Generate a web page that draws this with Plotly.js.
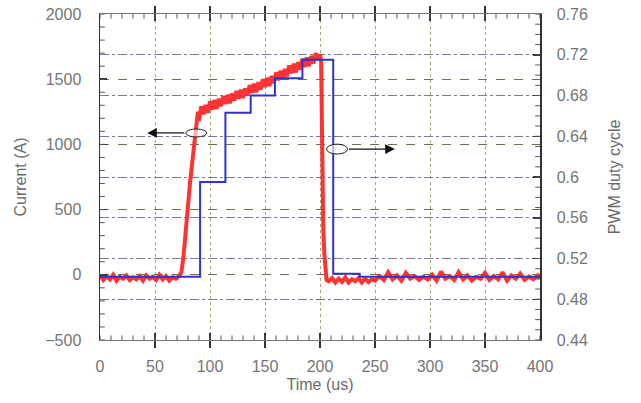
<!DOCTYPE html>
<html><head><meta charset="utf-8">
<script src="https://cdn.plot.ly/plotly-3.0.1.min.js"></script>
<style>html,body{margin:0;padding:0;background:#fff}#c{width:641px;height:403px}</style>
</head><body><div id="c"></div>
<script>
// Current (A) trace, time in us
const currentTime = [0,3,6,9,12,15,18,21,24,27,30,33,36,39,42,45,48,51,54,57,60,63,66,69,72,
  74,76,79,82,85,88,89,90,91,
  92,94,96,98,100,102,104,106,108,110,112,114,116,118,120,122,124,126,128,130,132,134,136,138,140,142,144,146,148,150,152,154,156,158,160,162,164,166,168,170,172,174,176,178,180,182,184,186,188,190,192,194,196,198,200,
  201,202,203,204,205,206,
  208,211,214,217,220,223,226,229,232,235,238,241,244,247,250,
  254,258,262,266,270,274,278,282,286,290,294,298,302,306,310,314,318,322,326,330,334,338,342,346,350,354,358,362,366,370,374,378,382,386,390,394,398,400];
const currentA = [-5,-40,-10,-35,0,-45,-15,-30,-5,-40,-20,-35,-10,-45,-5,-30,-15,-40,0,-35,-10,-45,-20,-30,-10,
  20,150,450,720,950,1180,1250,1180,1260,
  1293,1231,1303,1241,1329,1267,1340,1272,1350,1293,1370,1310,1380,1315,1390,1335,1410,1350,1420,1355,1430,1375,1455,1395,1465,1400,1478,1420,1500,1440,1512,1448,1525,1470,1550,1492,1565,1500,1578,1522,1605,1545,1618,1552,1630,1574,1657,1594,1667,1600,1678,1621,1700,1651,1690,
  1640,900,350,150,40,-40,
  -50,-25,-60,-30,-55,-20,-60,-35,-50,-25,-60,-30,-55,-35,-45,
  -10,-40,20,-35,-5,-45,15,-30,-10,-40,-15,-35,0,-45,25,-30,-10,-40,20,-35,-5,-45,-15,-30,15,-40,-10,-35,20,-45,-5,-30,10,-40,-15,-35,-5,-30];

// PWM duty cycle (step)
const dutyTime = [0,91,114,137,159,184,212,236,400];
const dutyCycle = [0.502,0.595,0.663,0.680,0.697,0.715,0.505,0.502,0.502];

// axis ranges / tick steps
const xRange = [0,400], xMinorStep = 10;
const yRange = [-500,2000], yMinorStep = 100;
const y2Range = [0.44,0.76], y2MinorStep = 0.01;

const tickFont = {family:'Liberation Sans, Arial, sans-serif', size:16, color:'#757575'};
const titleFont = {family:'Liberation Sans, Arial, sans-serif', size:16, color:'#6a6a6a'};

const traces = [
  {x: currentTime, y: currentA, type:'scatter', mode:'lines', xaxis:'x', yaxis:'y',
   line:{color:'#ff2828', width:4}, opacity:0.95, hoverinfo:'skip'},
  {x: dutyTime, y: dutyCycle, type:'scatter', mode:'lines', xaxis:'x', yaxis:'y2',
   line:{color:'#3232cc', width:2, shape:'hv'}, hoverinfo:'skip'}
];

// small inward tick marks along the frame (axis decoration)
const tickShapes = [];
const tl = {color:'#555', width:1};
for (let i = 0; xRange[0] + i*xMinorStep <= xRange[1] + 1e-9; i++) {
  const v = xRange[0] + i*xMinorStep;
  tickShapes.push({type:'line', xref:'x', yref:'paper', x0:v, x1:v, y0:0, y1:0.014, line:tl});
  tickShapes.push({type:'line', xref:'x', yref:'paper', x0:v, x1:v, y0:1, y1:0.986, line:tl});
}
for (let i = 0; yRange[0] + i*yMinorStep <= yRange[1] + 1e-9; i++) {
  const v = yRange[0] + i*yMinorStep;
  tickShapes.push({type:'line', xref:'paper', yref:'y', x0:0, x1:0.011, y0:v, y1:v, line:tl});
}
for (let i = 0; y2Range[0] + i*y2MinorStep <= y2Range[1] + 1e-9; i++) {
  const v = y2Range[0] + i*y2MinorStep;
  tickShapes.push({type:'line', xref:'paper', yref:'y2', x0:1, x1:0.989, y0:v, y1:v, line:tl});
}

const layout = {
  width:641, height:403,
  margin:{l:100, r:101, t:14, b:63},
  paper_bgcolor:'#fff', plot_bgcolor:'#fff',
  showlegend:false,
  font: tickFont,
  xaxis:{range:xRange, tickmode:'linear', tick0:0, dtick:50,
    ticks:'inside', ticklen:7, tickwidth:1.5, tickcolor:'#333',
    showline:true, linecolor:'#777', linewidth:1, mirror:'allticks',
    showgrid:true, gridcolor:'#a8a870', griddash:'dot', gridwidth:1,
    zeroline:false, tickfont:tickFont, ticklabelstandoff:12,
    title:{text:'Time (us)', font:titleFont, standoff:4}},
  yaxis:{range:yRange, tickmode:'linear', tick0:0, dtick:500,
    ticks:'inside', ticklen:7, tickwidth:1.5, tickcolor:'#333',
    showline:true, linecolor:'#333', linewidth:1.5,
    showgrid:true, gridcolor:'#6f6f50', griddash:'dash', gridwidth:1,
    zeroline:false, tickfont:tickFont, ticklabelstandoff:14,
    title:{text:'Current (A)', font:titleFont, standoff:14}},
  yaxis2:{range:y2Range, overlaying:'y', side:'right', anchor:'x',
    tickmode:'linear', tick0:0.44, dtick:0.04,
    ticks:'inside', ticklen:7, tickwidth:1.5, tickcolor:'#333',
    showline:true, linecolor:'#333', linewidth:1.5,
    showgrid:true, gridcolor:'#7a7a9a', griddash:'dashdot', gridwidth:1,
    zeroline:false, tickfont:tickFont, ticklabelstandoff:12,
    title:{text:'PWM duty cycle', font:titleFont, standoff:22}},
  shapes: tickShapes.concat([
    {type:'circle', xref:'x', yref:'y', x0:78, x1:97, y0:1057, y1:1118, line:{color:'#222', width:1}, fillcolor:'rgba(255,255,255,0.6)'},
    {type:'circle', xref:'x', yref:'y', x0:206, x1:225, y0:926, y1:1002, line:{color:'#222', width:1}, fillcolor:'rgba(255,255,255,0.6)'}
  ]),
  annotations:[
    {x:43, y:1088, ax:78, ay:1088, xref:'x', yref:'y', axref:'x', ayref:'y',
     text:'', showarrow:true, arrowhead:2, arrowsize:1.6, arrowwidth:1.2, arrowcolor:'#111'},
    {x:268, y:964, ax:225, ay:964, xref:'x', yref:'y', axref:'x', ayref:'y',
     text:'', showarrow:true, arrowhead:2, arrowsize:1.6, arrowwidth:1.2, arrowcolor:'#111'}
  ]
};

Plotly.newPlot('c', traces, layout, {displayModeBar:false, staticPlot:true});
</script>
</body></html>
